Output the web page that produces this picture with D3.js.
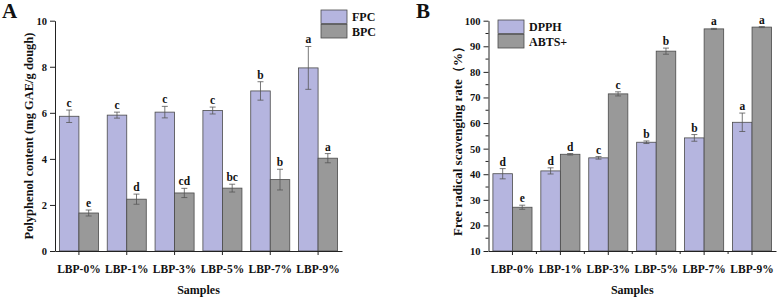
<!DOCTYPE html>
<html><head><meta charset="utf-8">
<script src="https://cdn.jsdelivr.net/npm/d3@7"></script>
<style>
body{margin:0;background:#fff;}
svg text{font-family:"Liberation Serif","Times New Roman",serif;font-weight:bold;fill:#111;}
</style></head>
<body><svg id="c" width="777" height="299"></svg>
<script>
const samples = ["LBP-0%","LBP-1%","LBP-3%","LBP-5%","LBP-7%","LBP-9%"];
// Panel A
const fpc = [5.85,5.9,6.03,6.1,6.95,7.95];
const fpcErr = [0.27,0.13,0.25,0.15,0.4,0.93];
const fpcSig = ["c","c","c","c","b","a"];
const bpc = [1.65,2.25,2.52,2.73,3.1,4.03];
const bpcErr = [0.13,0.22,0.2,0.17,0.45,0.2];
const bpcSig = ["e","d","cd","bc","b","a"];
const ticksA = [0,2,4,6,8,10];
// Panel B
const dpph = [40.2,41.3,46.4,52.5,54.2,60.3];
const dpphErr = [2.0,1.2,0.5,0.5,1.3,3.6];
const dpphSig = ["d","d","c","b","b","a"];
const abts = [27.1,47.8,71.4,88.1,96.8,97.5];
const abtsErr = [0.8,0.3,0.8,1.2,0.2,0.2];
const abtsSig = ["e","d","c","b","a","a"];
const ticksB = [10,20,30,40,50,60,70,80,90,100];
const minorB = [15,25,35,45,55,65,75,85,95];

const C1 = "#b5b5df", C2 = "#999999", STROKE = "#4a4a4a";
const svg = d3.select("#c");

function panel(opt){
  const g = svg.append("g");
  const x = d3.scaleBand().domain(samples).range([opt.left,opt.right]).paddingInner(0.184).paddingOuter(0.092);
  const sub = d3.scaleBand().domain([0,1]).range([0,x.bandwidth()]);
  const y = d3.scaleLinear().domain(opt.domain).range([opt.bottom,opt.top]);
  const series = [
    {v:opt.s1,e:opt.e1,s:opt.sig1,c:C1},
    {v:opt.s2,e:opt.e2,s:opt.sig2,c:C2}
  ];
  series.forEach((S,si)=>{
    const d = samples.map((k,i)=>({k,v:S.v[i],e:S.e[i],s:S.s[i]}));
    const gx = d=>x(d.k)+sub(si);
    g.selectAll(null).data(d).enter().append("rect")
      .attr("x",gx).attr("width",sub.bandwidth())
      .attr("y",d=>y(d.v)).attr("height",d=>y(opt.domain[0])-y(d.v))
      .attr("fill",S.c).attr("stroke",STROKE).attr("stroke-width",0.8);
    const cx = d=>gx(d)+sub.bandwidth()/2;
    g.selectAll(null).data(d).enter().append("line")
      .attr("x1",cx).attr("x2",cx).attr("y1",d=>y(d.v-d.e)).attr("y2",d=>y(d.v+d.e))
      .attr("stroke","#555").attr("stroke-width",0.8);
    [1,-1].forEach(sg=>{
      g.selectAll(null).data(d).enter().append("line")
        .attr("x1",d=>cx(d)-3).attr("x2",d=>cx(d)+3)
        .attr("y1",d=>y(d.v+sg*d.e)).attr("y2",d=>y(d.v+sg*d.e))
        .attr("stroke","#555").attr("stroke-width",0.8);
    });
    g.selectAll(null).data(d).enter().append("text")
      .attr("x",cx).attr("y",d=>y(d.v+d.e)-3).attr("text-anchor","middle")
      .attr("font-size","11.5px").text(d=>d.s);
  });
  // y axis
  const ya = g.append("g").attr("transform",`translate(${opt.left},0)`)
    .call(d3.axisLeft(y).tickValues(opt.ticks).tickSize(5).tickSizeOuter(0).tickPadding(3));
  ya.selectAll("text").attr("font-size","10.5px").style("font-family","Liberation Serif").style("font-weight","bold").style("fill","#111");
  ya.selectAll("line,path").attr("stroke","#222");
  if(opt.minor){
    g.selectAll(null).data(opt.minor).enter().append("line")
      .attr("x1",opt.left-3).attr("x2",opt.left).attr("y1",d=>y(d)).attr("y2",d=>y(d)).attr("stroke","#222");
  }
  // x axis
  const xa = g.append("g").attr("transform",`translate(0,${opt.bottom})`)
    .call(d3.axisBottom(x).tickSize(4).tickSizeOuter(0).tickPadding(10));
  xa.selectAll("text").attr("font-size","11.5px").style("font-family","Liberation Serif").style("font-weight","bold").style("fill","#111");
  xa.selectAll("line,path").attr("stroke","#222");
  if(opt.minorX){
    const mids = samples.slice(1).map(k=>x(k)-x.step()*x.paddingInner()/2);
    g.selectAll(null).data(mids).enter().append("line")
      .attr("x1",d=>d).attr("x2",d=>d).attr("y1",opt.bottom).attr("y2",opt.bottom+3).attr("stroke","#222");
  }
  // titles
  g.append("text").attr("x",(opt.left+opt.right)/2).attr("y",294).attr("text-anchor","middle")
    .attr("font-size","12px").text("Samples");
  g.append("text").attr("transform",`translate(${opt.ylx},${opt.yly}) rotate(-90)`).attr("text-anchor","middle")
    .attr("font-size",opt.ylfs).text(opt.ylabel);
  g.append("text").attr("x",opt.px).attr("y",18).attr("font-size","21px").text(opt.letter);
  // legend
  opt.legend.forEach((L,i)=>{
    g.append("rect").attr("x",opt.lx).attr("y",opt.ly+i*14.5).attr("width",26).attr("height",13.5)
      .attr("fill",i===0?C1:C2).attr("stroke",STROKE).attr("stroke-width",0.8);
    g.append("text").attr("x",opt.lx+31).attr("y",opt.ly+i*14.5+11).attr("font-size","12px").text(L);
  });
}

panel({left:55,right:342,top:20.7,bottom:251,domain:[0,10],ticks:ticksA,
  s1:fpc,e1:fpcErr,sig1:fpcSig,s2:bpc,e2:bpcErr,sig2:bpcSig,
  ylabel:"Polyphenol content (mg GAE/g dough)",ylfs:"12.5px",ylx:33,yly:136,px:2,letter:"A",
  legend:["FPC","BPC"],lx:321,ly:10});
panel({left:488.5,right:776,top:20.7,bottom:251,domain:[10,100],ticks:ticksB,minor:minorB,minorX:true,
  s1:dpph,e1:dpphErr,sig1:dpphSig,s2:abts,e2:abtsErr,sig2:abtsSig,
  ylabel:"Free radical scavenging rate（%）",ylfs:"13px",ylx:462,yly:138,px:416,letter:"B",
  legend:["DPPH","ABTS+"],lx:498,ly:20});
</script></body></html>
